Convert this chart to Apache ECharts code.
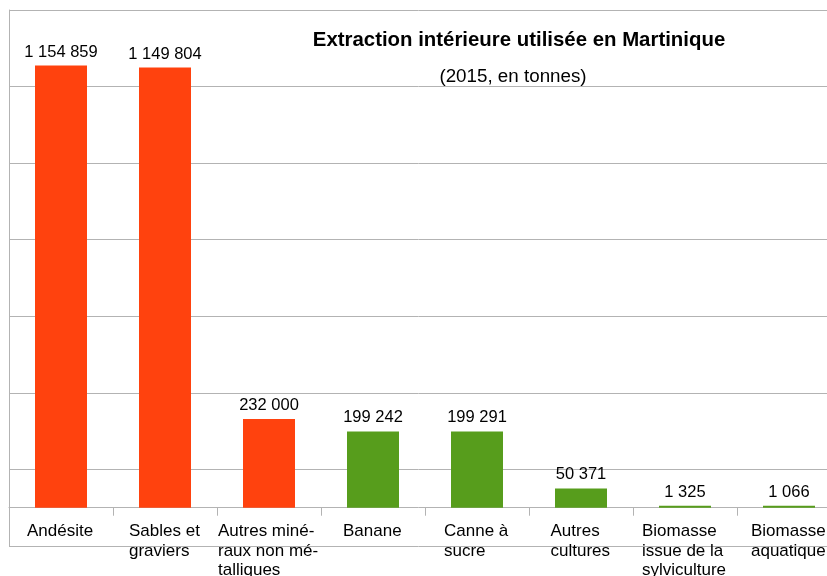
<!DOCTYPE html>
<html><head><meta charset="utf-8">
<script src="https://cdn.jsdelivr.net/npm/echarts@6/dist/echarts.min.js"></script>
<style>html,body{margin:0;padding:0;background:#fff}#c{width:827px;height:576px}</style>
</head><body><div id="c"></div>
<script>
const categories = ['Andésite', 'Sables et\ngraviers', 'Autres miné-\nraux non mé-\ntalliques', 'Banane', 'Canne à\nsucre', 'Autres\ncultures', 'Biomasse\nissue de la\nsylviculture', 'Biomasse\naquatique'];
const values = [1154859, 1149804, 232000, 199242, 199291, 50371, 1325, 1066];
const groups = ['min', 'min', 'min', 'bio', 'bio', 'bio', 'bio', 'bio'];
const groupColors = { min: '#ff420e', bio: '#579d1c' };
const titleText = 'Extraction intérieure utilisée en Martinique';
const subtitleText = '(2015, en tonnes)';
// background scale of the gridlines (from -100 000 to 1 300 000, step 200 000)
const gridMin = -100000, gridMax = 1300000, gridStep = 200000;

const FONT = '"Liberation Sans", Arial, sans-serif';
const LABEL_SIZE = 17;
const ctx = document.createElement('canvas').getContext('2d');
ctx.font = LABEL_SIZE + 'px "Liberation Sans"';
const rich = {};
categories.forEach((c, i) => {
  const w = Math.max(...c.split('\n').map(s => ctx.measureText(s).width));
  rich['l' + i] = { width: Math.ceil(w) + 1, align: 'left', fontSize: LABEL_SIZE, lineHeight: 19.5, fontFamily: FONT, color: '#000' };
});
const fmt = v => String(v).replace(/\B(?=(\d{3})+(?!\d))/g, ' ');

// pixel geometry: background grid 10..546, bars grid 10..(zero line)
const TOP = 10, BOTTOM = 546;
const zeroY = TOP + (BOTTOM - TOP) * (gridMax - 0) / (gridMax - gridMin);

const chart = echarts.init(document.getElementById('c'));
chart.setOption({
  backgroundColor: '#fff',
  animation: false,
  title: [
    { text: titleText, left: 514, top: 25, textAlign: 'center',
      textStyle: { fontFamily: FONT, fontSize: 20.4, fontWeight: 'bold', color: '#000' } },
    { text: subtitleText, left: 508, top: 62, textAlign: 'center',
      textStyle: { fontFamily: FONT, fontSize: 18.8, fontWeight: 'normal', color: '#000' } }
  ],
  grid: [
    { left: 9, top: TOP, width: 832, height: BOTTOM - TOP, outerBoundsMode: 'none', containLabel: false },
    { left: 9, top: TOP, width: 832, height: zeroY - TOP, outerBoundsMode: 'none', containLabel: false }
  ],
  xAxis: [
    { type: 'category', gridIndex: 0, data: categories, show: false },
    {
      type: 'category', gridIndex: 1, data: categories, position: 'bottom',
      axisLine: { show: true, onZero: false, lineStyle: { color: '#b3b3b3', width: 1 } },
      axisTick: { show: true, length: 8, lineStyle: { color: '#b3b3b3' } },
      axisLabel: {
        interval: 0, margin: 14,
        formatter: (v, i) => v.split('\n').map(s => '{l' + i + '|' + s + '}').join('\n'),
        rich: rich
      },
      splitLine: { show: false }
    }
  ],
  yAxis: [
    {
      type: 'value', gridIndex: 0, min: gridMin, max: gridMax, interval: gridStep,
      axisLine: { show: true, onZero: false, lineStyle: { color: '#b3b3b3', width: 1 } },
      axisTick: { show: false }, axisLabel: { show: false },
      splitLine: { show: true, lineStyle: { color: '#b3b3b3', width: 1 } }
    },
    {
      type: 'value', gridIndex: 1, min: 0, max: gridMax, show: false,
      splitLine: { show: false }
    }
  ],
  series: [{
    type: 'bar', xAxisIndex: 1, yAxisIndex: 1, barWidth: '50%', barMinHeight: 2,
    data: values.map((v, i) => ({ value: v, itemStyle: { color: groupColors[groups[i]] } })),
    label: { show: true, position: 'top', distance: 5, formatter: p => fmt(p.value),
      fontFamily: FONT, fontSize: 16.5, color: '#000' }
  }]
});
</script></body></html>
